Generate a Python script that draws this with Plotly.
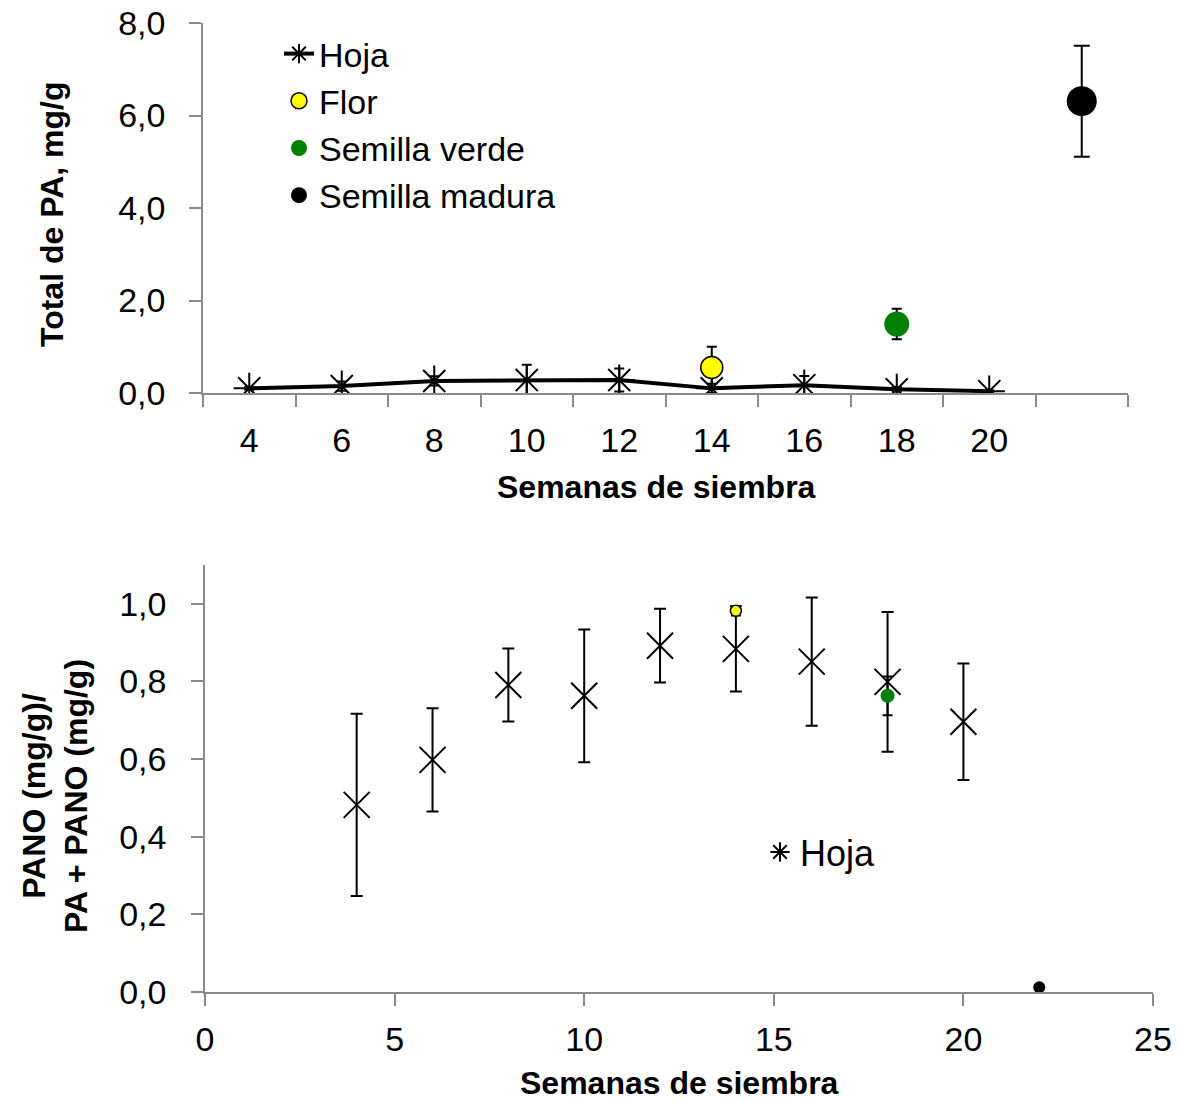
import plotly.graph_objects as go

# ---------------- data ----------------
weeks = [4, 6, 8, 10, 12, 14, 16, 18, 20]
week_labels = ["4", "6", "8", "10", "12", "14", "16", "18", "20"]

# Top panel: Total de PA, mg/g
hoja_total = [0.10, 0.15, 0.26, 0.28, 0.28, 0.10, 0.17, 0.08, 0.04]
hoja_total_err = [0.03, 0.10, 0.10, 0.33, 0.25, 0.10, 0.20, 0.05, 0.02]
flor_week = [14]
flor_total = [0.55]
flor_total_err = [0.45]
verde_week = [18]
verde_total = [1.49]
verde_total_err = [0.33]
madura_week = [22]
madura_total = [6.31]
madura_total_err = [1.20]

# Bottom panel: PANO / (PA + PANO)
hoja_ratio = [0.482, 0.598, 0.791, 0.763, 0.892, 0.884, 0.851, 0.799, 0.696]
hoja_ratio_err = [0.235, 0.133, 0.094, 0.171, 0.095, 0.110, 0.165, 0.180, 0.150]
flor_ratio = [0.982]
flor_ratio_err = [0.012]
verde_ratio = [0.763]
verde_ratio_err = [0.050]
madura_ratio = [0.012]
madura_ratio_err = [0.006]

FONT = "Liberation Sans, Arial, Helvetica, sans-serif"
AXCOL = "#8a8a8a"
OFF = 8                      # page body margin
W, H = 1180 - OFF, 1101 - OFF


def px(x):
    return (x - OFF) / W


def py(y):
    return (H - (y - OFF)) / H


fig = go.Figure()

# ---------- top panel ----------
fig.add_trace(go.Scatter(
    x=weeks, y=hoja_total, name="Hoja", mode="lines+markers",
    line=dict(color="black", width=4),
    marker=dict(symbol="asterisk-open", size=26, color="black",
                line=dict(color="black", width=2)),
    error_y=dict(type="data", array=hoja_total_err, color="black",
                 thickness=2, width=5),
    xaxis="x", yaxis="y", legend="legend"))
fig.add_trace(go.Scatter(
    x=flor_week, y=flor_total, name="Flor", mode="markers",
    marker=dict(symbol="circle", size=22, color="#ffff00",
                line=dict(color="black", width=1.5)),
    error_y=dict(type="data", array=flor_total_err, color="black",
                 thickness=2, width=5),
    xaxis="x", yaxis="y", legend="legend"))
fig.add_trace(go.Scatter(
    x=verde_week, y=verde_total, name="Semilla verde", mode="markers",
    marker=dict(symbol="circle", size=25, color="#008000",
                line=dict(color="#008000", width=0)),
    error_y=dict(type="data", array=verde_total_err, color="black",
                 thickness=2, width=5),
    xaxis="x", yaxis="y", legend="legend"))
fig.add_trace(go.Scatter(
    x=madura_week, y=madura_total, name="Semilla madura", mode="markers",
    marker=dict(symbol="circle", size=30, color="black"),
    error_y=dict(type="data", array=madura_total_err, color="black",
                 thickness=2, width=8),
    xaxis="x", yaxis="y", legend="legend"))

# ---------- bottom panel ----------
fig.add_trace(go.Scatter(
    x=weeks, y=hoja_ratio, name="Hoja", mode="markers",
    marker=dict(symbol="x-thin-open", size=26, color="black",
                line=dict(color="black", width=2)),
    error_y=dict(type="data", array=hoja_ratio_err, color="black",
                 thickness=2, width=6),
    xaxis="x2", yaxis="y2", showlegend=False))
fig.add_trace(go.Scatter(
    x=flor_week, y=flor_ratio, name="Flor", mode="markers",
    marker=dict(symbol="circle", size=11, color="#ffff00",
                line=dict(color="black", width=1.5)),
    error_y=dict(type="data", array=flor_ratio_err, color="black",
                 thickness=2, width=5),
    xaxis="x2", yaxis="y2", showlegend=False))
fig.add_trace(go.Scatter(
    x=verde_week, y=verde_ratio, name="Semilla verde", mode="markers",
    marker=dict(symbol="circle", size=14, color="#008000"),
    error_y=dict(type="data", array=verde_ratio_err, color="black",
                 thickness=2, width=5),
    xaxis="x2", yaxis="y2", showlegend=False))
fig.add_trace(go.Scatter(
    x=madura_week, y=madura_ratio, name="Semilla madura", mode="markers",
    marker=dict(symbol="circle", size=12, color="black"),
    error_y=dict(type="data", array=madura_ratio_err, color="black",
                 thickness=2, width=4),
    xaxis="x2", yaxis="y2", showlegend=False))
# legend entry for bottom panel
fig.add_trace(go.Scatter(
    x=[None], y=[None], name="Hoja", mode="markers",
    marker=dict(symbol="asterisk-open", size=16, color="black",
                line=dict(color="black", width=2)),
    xaxis="x2", yaxis="y2", legend="legend2"))

tickfont = dict(family=FONT, size=34, color="black")
TFS = 32

fig.update_layout(
    width=W, height=H, autosize=False,
    margin=dict(l=0, r=0, t=0, b=0, autoexpand=False),
    paper_bgcolor="white", plot_bgcolor="white",
    separators=", ",
    font=dict(family=FONT, color="black"),
    xaxis=dict(
        domain=[px(203), px(1128)], anchor="y", automargin=False,
        range=[3, 23], tickmode="array", tickvals=weeks, ticktext=week_labels,
        ticks="", showgrid=False, zeroline=False,
        showline=True, linecolor=AXCOL, linewidth=1.5,
        tickfont=tickfont, ticklabelstandoff=16, ticklabeloverflow="allow",
        minor=dict(tickmode="array", tickvals=list(range(3, 24, 2)),
                   ticks="outside", ticklen=12, tickcolor=AXCOL, tickwidth=1.5,
                   showgrid=False),
    ),
    yaxis=dict(
        domain=[py(393), py(23)], anchor="x", automargin=False,
        range=[0, 8], tickmode="linear", tick0=0, dtick=2, tickformat=".1f",
        ticks="outside", ticklen=12, tickcolor=AXCOL, tickwidth=1.5,
        showgrid=False, zeroline=False,
        showline=True, linecolor=AXCOL, linewidth=1.5,
        tickfont=tickfont, ticklabelstandoff=17, ticklabeloverflow="allow",
    ),
    xaxis2=dict(
        domain=[px(205), px(1153)], anchor="y2", automargin=False,
        range=[0, 25], tickmode="linear", tick0=0, dtick=5,
        ticks="outside", ticklen=12, tickcolor=AXCOL, tickwidth=1.5,
        showgrid=False, zeroline=False,
        showline=True, linecolor=AXCOL, linewidth=1.5,
        tickfont=tickfont, ticklabelstandoff=4, ticklabeloverflow="allow",
    ),
    yaxis2=dict(
        domain=[py(992), py(565)], anchor="x2", automargin=False,
        range=[0, 1.1], tickmode="array", tickvals=[0, 0.2, 0.4, 0.6, 0.8, 1.0],
        tickformat=".1f",
        ticks="outside", ticklen=12, tickcolor=AXCOL, tickwidth=1.5,
        showgrid=False, zeroline=False,
        showline=True, linecolor=AXCOL, linewidth=1.5,
        tickfont=tickfont, ticklabelstandoff=18, ticklabeloverflow="allow",
    ),
    legend=dict(
        x=px(279), y=py(25), xanchor="left", yanchor="top",
        bgcolor="rgba(0,0,0,0)", font=dict(family=FONT, size=34, color="black"),
        tracegroupgap=0, itemsizing="trace",
    ),
    legend2=dict(
        x=px(760), y=py(822), xanchor="left", yanchor="top",
        bgcolor="rgba(0,0,0,0)", font=dict(family=FONT, size=36, color="black"),
    ),
    annotations=[
        dict(text="<b>Semanas de siembra</b>", xref="paper", yref="paper",
             x=px(656), y=py(487), xanchor="center", yanchor="middle",
             showarrow=False, font=dict(family=FONT, size=TFS, color="black")),
        dict(text="<b>Semanas de siembra</b>", xref="paper", yref="paper",
             x=px(679), y=py(1083), xanchor="center", yanchor="middle",
             showarrow=False, font=dict(family=FONT, size=TFS, color="black")),
        dict(text="<b>Total de PA, mg/g</b>", xref="paper", yref="paper",
             x=px(52), y=py(215), xanchor="center", yanchor="middle",
             textangle=-90, showarrow=False,
             font=dict(family=FONT, size=TFS, color="black")),
        dict(text="<b>PANO (mg/g)/<br>PA + PANO (mg/g)</b>", xref="paper", yref="paper",
             x=px(55), y=py(796), xanchor="center", yanchor="middle",
             textangle=-90, showarrow=False,
             font=dict(family=FONT, size=TFS, color="black")),
    ],
)

fig.write_html("out.html")
